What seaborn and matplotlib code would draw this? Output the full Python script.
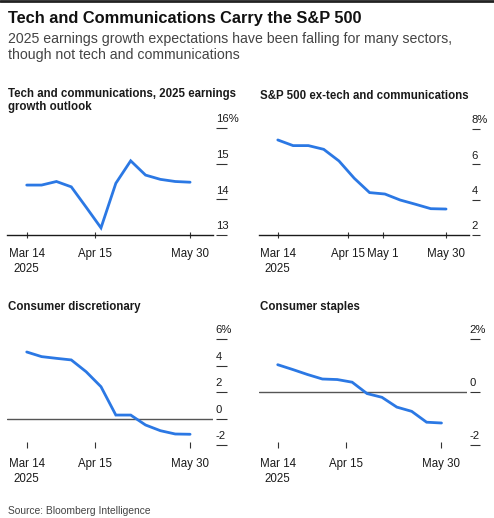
import pandas as pd
import numpy as np
import matplotlib.pyplot as plt
import matplotlib.transforms as mtransforms
import seaborn as sns

# weekly readings, Mar 14 - May 30 2025
dates = pd.date_range("2025-03-14", "2025-05-30", freq="7D")
tech_comm = [14.4, 14.4, 14.5, 14.35, 13.78, 13.2, 14.45, 15.08, 14.68, 14.56, 14.5, 14.48]
spx_ex_tech = [7.38, 7.06, 7.06, 6.85, 6.19, 5.21, 4.40, 4.32, 3.98, 3.74, 3.49, 3.47]
cons_disc = [5.02, 4.67, 4.54, 4.42, 3.53, 2.40, 0.26, 0.26, -0.49, -0.92, -1.17, -1.19]
cons_staples = [1.03, 0.85, 0.66, 0.49, 0.47, 0.37, -0.06, -0.20, -0.57, -0.73, -1.14, -1.17]

panel_titles = ["Tech and communications, 2025 earnings\ngrowth outlook",
                "S&P 500 ex-tech and communications",
                "Consumer discretionary",
                "Consumer staples"]
y_ticks = [[13, 14, 15, 16], [2, 4, 6, 8], [-2, 0, 2, 4, 6], [-2, 0, 2]]
x_tick_dates = [["2025-03-14", "2025-04-15", "2025-05-30"],
                ["2025-03-14", "2025-04-15", "2025-05-01", "2025-05-30"],
                ["2025-03-14", "2025-04-15", "2025-05-30"],
                ["2025-03-14", "2025-04-15", "2025-05-30"]]
x_tick_labels = [["Mar 14\n2025", "Apr 15", "May 30"],
                 ["Mar 14\n2025", "Apr 15", "May 1", "May 30"],
                 ["Mar 14\n2025", "Apr 15", "May 30"],
                 ["Mar 14\n2025", "Apr 15", "May 30"]]

sns.set_style("white")
plt.rcParams['font.family'] = ['Liberation Sans', 'DejaVu Sans']

W, H = 494, 518
fig = plt.figure(figsize=(W / 100, H / 100), dpi=100)

def box(x0, y0, x1, y1):
    # pixel box (top-left origin) -> figure fraction
    return [x0 / W, 1 - y1 / H, (x1 - x0) / W, (y1 - y0) / H]

boxes = [box(7, 128, 213, 235), box(259, 129, 469, 235),
         box(7, 339, 213, 445), box(259, 339, 467, 445)]
# padding in days around the date range (left, right)
x_pad = [(9.3, 10.8), (8.6, 10.5), (9.3, 10.8), (8.8, 12.0)]
dash_len = [8.0, 6.0, 8.0, 7.0]
# pixel y of the bottom of each panel title
title_bottom = [113, 102, 313, 313]
series = [tech_comm, spx_ex_tech, cons_disc, cons_staples]
line_color = "#2b78e4"
ink = "#1a1a1a"

for i, (b, vals) in enumerate(zip(boxes, series)):
    ax = fig.add_axes(b)
    df = pd.DataFrame({"date": dates, "value": vals})
    sns.lineplot(data=df, x="date", y="value", ax=ax, color=line_color, lw=2.0,
                 solid_joinstyle="miter")
    ax.set_xlim(dates[0] - pd.Timedelta(days=x_pad[i][0]),
                dates[-1] + pd.Timedelta(days=x_pad[i][1]))
    yt = y_ticks[i]
    ax.set_ylim(yt[0], yt[-1])
    ax.set_xlabel("")
    ax.set_ylabel("")
    for s in ax.spines.values():
        s.set_visible(False)
    if i < 2:
        ax.spines["bottom"].set_visible(True)
        ax.spines["bottom"].set_color(ink)
        ax.spines["bottom"].set_linewidth(1.0)
    else:
        ax.axhline(0, color="#555555", lw=1.0, zorder=1)

    ax.set_xticks(pd.to_datetime(x_tick_dates[i]))
    ax.set_xticklabels(x_tick_labels[i], fontsize=8.3, color=ink, linespacing=1.3)
    ax.tick_params(axis="x", bottom=True, direction="inout", length=5, width=0.8,
                   color="#333333", pad=7)

    # value labels sit above short dashes just right of the plot
    ax.yaxis.tick_right()
    ax.spines["right"].set_position(("outward", 2))
    ax.set_yticks(yt)
    labels = [str(v) for v in yt]
    labels[-1] = labels[-1] + "%"
    ax.set_yticklabels(labels, fontsize=8.1, color=ink)
    ax.tick_params(axis="y", right=True, left=False, direction="out",
                   length=dash_len[i], width=0.8, color="#333333", pad=-dash_len[i])
    offset = mtransforms.ScaledTranslation(0, 7 / 72, fig.dpi_scale_trans)
    for lab in ax.get_yticklabels():
        lab.set_transform(lab.get_transform() + offset)
        lab.set_horizontalalignment("left")

    # panel title
    fig.text(b[0] + 1 / W, 1 - title_bottom[i] / H, panel_titles[i], fontsize=8.3,
             fontweight="bold", color=ink, va="bottom", ha="left", linespacing=1.15)

fig.text(8 / W, 1 - 18 / H, "Tech and Communications Carry the S&P 500",
         fontsize=11.8, fontweight="bold", color="#111111", va="center")
fig.text(8 / W, 1 - 47 / H,
         "2025 earnings growth expectations have been falling for many sectors,\n"
         "though not tech and communications",
         fontsize=10.2, color="#444444", va="center", linespacing=1.2)
fig.text(8 / W, 1 - 511 / H, "Source: Bloomberg Intelligence",
         fontsize=7.4, color="#444444", va="center")

fig.add_artist(plt.Line2D([0, 1], [1 - 1 / H, 1 - 1 / H], color="#222222", lw=2))

fig.savefig("out.png", dpi=100)
